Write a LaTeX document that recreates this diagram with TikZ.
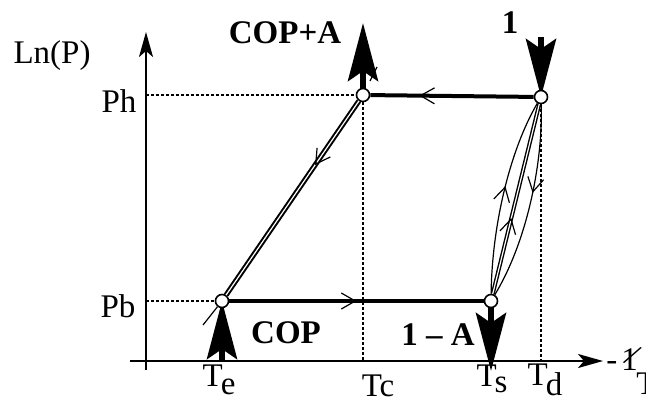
\documentclass[tikz,border=0pt]{standalone}
\usepackage{fontspec}
\setmainfont{Liberation Serif}
\usetikzlibrary{arrows.meta,decorations.markings,backgrounds}

\begin{document}
\begin{tikzpicture}[x=0.5pt,y=-0.5pt,
  lab/.style={font=\fontsize{16.5}{18}\selectfont, inner sep=0pt, anchor=base},
  gras/.style={lab, font=\fontsize{16.5}{18}\selectfont\bfseries},
  etat/.style={circle, draw, fill=white, line width=0.8pt, inner sep=0pt, minimum size=6.5pt},
  axe/.style={line width=1pt, -{Stealth[length=12.5pt,width=7pt,inset=3pt]}},
  guide/.style={line width=0.8pt, dash pattern=on 1.5pt off 1pt},
  flux/.style={line width=3pt, -{Stealth[length=29pt,width=15pt,inset=5pt]}},
  sens/.style={decoration={markings, mark=at position #1 with {\arrow{Straight Barb[length=7pt,width=8pt,line width=0.6pt]}}}, postaction={decorate}}]
\useasboundingbox (0,0) rectangle (646,402);
% axes
\coordinate (x0) at (130,361);
\coordinate (x1) at (603,361);
\coordinate (y0) at (146,370);
\coordinate (y1) at (146,32);
\draw[axe] (x0) -- (x1);
\draw[axe] (y0) -- (y1);
\node[lab] (lnp) at (52,63) {Ln(P)};
% states of the cycle
\node[etat] (pe) at (222,301) {};
\node[etat] (pc) at (363,95) {};
\node[etat] (pd) at (541,97) {};
\node[etat] (ps) at (491,301) {};
% feet on the axes
\coordinate (ph) at (146,95);
\coordinate (pb) at (146,301);
\coordinate (tc) at (363,361);
\coordinate (td) at (541,361);
\draw[guide] (ph) -- (pc) -- (tc);
\draw[guide] (pb) -- (pe);
\draw[guide] (pd) -- (td);
% cycle
\draw[line width=2pt, sens=0.7] (pd) -- (pc);
\draw[line width=2pt, sens=0.5] (pe) -- (ps);
\draw[double, line width=1pt, double distance=0.6pt] (pc) -- (pe);
\path[line width=0.6pt, sens=0.33] (pc) -- (pe);
\coordinate (e0) at (203,325);
\coordinate (c0) at (370,81);
\coordinate (c1) at (377,67);
\draw[line width=0.6pt] (e0) -- (pe);
\draw[line width=0.6pt] (c0) -- (c1);
% compression side
\draw[line width=0.6pt, sens=0.55] (ps) .. controls (492,225) and (510,150) .. (pd);
\draw[double, line width=0.7pt, double distance=0.6pt] (ps) -- (pd);
\path[line width=0.6pt, sens=0.4] (ps) -- (pd);
\draw[line width=0.6pt, sens=0.45] (pd) .. controls (543,160) and (528,240) .. (ps);
% heat flows
\coordinate (ae) at (222,361);
\coordinate (ac) at (363,23);
\coordinate (ad) at (541,37);
\coordinate (as) at (491,371);
\begin{scope}[on background layer]
\draw[flux] (ae) -- (pe.center);
\draw[flux] (pc.center) -- (ac);
\draw[flux] (ad) -- (pd.center);
\draw[flux] (ps.center) -- (as);
\end{scope}
% labels
\node[lab] (phl) at (119,112) {Ph};
\node[lab] (pbl) at (118,317) {Pb};
\node[gras] (copa) at (285,43) {COP+A};
\node[gras] (un) at (510,33) {1};
\node[gras] (cop) at (286,343) {COP};
\node[gras] (una) at (438,345) {1 – A};
\node[lab] (tel) at (219,386) {T\kern-1pt\raisebox{-4pt}{e}};
\node[lab] (tcl) at (378,396) {Tc};
\node[lab] (tsl) at (492,386) {T\kern-1pt\raisebox{-3pt}{s}};
\node[lab] (tdl) at (545,385) {T\kern-1pt\raisebox{-5pt}{d}};
\node[lab, anchor=base west] (moins) at (606,370) {-\kern2pt1};
\node[lab, rotate=-30] (barre) at (627,365) {/};
\node[lab, anchor=base west] (tinv) at (636,394) {T};
\end{tikzpicture}
\end{document}
